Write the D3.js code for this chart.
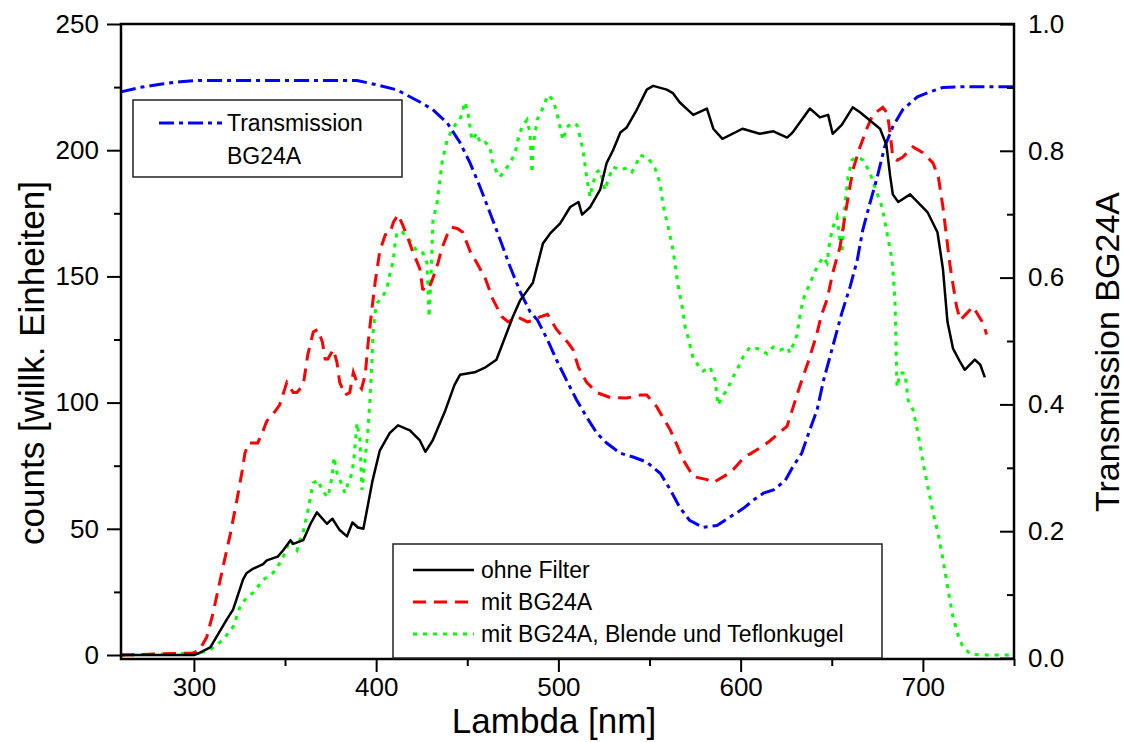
<!DOCTYPE html>
<html>
<head>
<meta charset="utf-8">
<script src="https://cdn.jsdelivr.net/npm/d3@7"></script>
<style>
  body { margin: 0; background: #fff; }
  svg { display: block; font-family: "Liberation Sans", Arial, sans-serif; }
</style>
</head>
<body>
<div id="chart"></div>
<script>
const width = 1127
const height = 742
const margin = ({top: 24, right: 113, bottom: 83, left: 121})

// wavelength [nm], counts
const ohneFilter = [
  [260, 0], [300, 0], [303, 0.8], [309, 3], [318, 14], [321.5, 18], [327, 30], [329, 32.5],
  [332, 34], [338, 36], [340, 37.5], [346, 39], [349, 41.5], [353, 45.5], [354.5, 44],
  [360, 45.5], [364, 52], [367.5, 56.5], [373, 52], [376, 54], [380, 49.5], [384, 47],
  [387, 52.5], [390, 50.5], [393, 50], [398, 69], [402, 81], [407.5, 88], [412, 91],
  [418.5, 89], [424, 85], [427, 80.5], [431, 85], [438, 97], [443, 107], [446, 111],
  [454, 112], [460, 114], [466, 117], [475, 134], [479, 140.5], [486, 147.5], [491.5, 163],
  [495.5, 167], [501, 171], [506.5, 177.5], [511, 179.5], [513, 174.5], [517.5, 177.5],
  [523, 184.5], [526.5, 195], [530, 200], [534, 207], [537.5, 209], [543, 216], [548.5, 224],
  [552, 225.5], [559.5, 224], [563, 222.5], [566.5, 219], [574, 214], [581.5, 216.5],
  [585, 208.5], [590, 204.5], [601, 208.5], [610.5, 206.5], [618, 207.5], [625.5, 205],
  [628.5, 207], [638, 216.5], [643.5, 213], [648, 214], [650.5, 206.5], [655.5, 210],
  [661.5, 217], [665.5, 215], [676.5, 208.5], [680, 202], [682, 190], [683.5, 182.5],
  [686.5, 179.5], [693, 182.5], [702.5, 175.5], [708, 167.5], [711, 153], [713.5, 132],
  [716.5, 121.5], [720.5, 116], [723, 113], [728.5, 117], [731.5, 115], [734, 110]
]

const mitBG24A = [
  [260, 0], [299.5, 0.8], [303, 2], [307, 7], [310.5, 16.6], [316, 35], [320, 48], [323.5, 61],
  [326.5, 73], [328, 80], [330, 84], [335, 84], [337.5, 88], [340, 92.7], [343, 95], [347, 99],
  [351, 108], [354.5, 104], [356.5, 104], [360, 107], [362.5, 119], [365.5, 128], [368, 129],
  [370.5, 124], [372, 117.3], [373.5, 117.3], [376.5, 121], [378.5, 116], [380, 108],
  [383, 103], [385.5, 104], [387.5, 112], [389.5, 108], [392, 105.5], [394, 111], [395.5, 123],
  [397.5, 136], [399.5, 148], [402, 160], [405, 166.5], [407.5, 167], [409.5, 171.5],
  [412, 174.5], [414.5, 170.5], [417.5, 165], [420, 160], [424, 153], [425.5, 145],
  [428.5, 144.5], [431, 149], [434, 155.5], [436, 161], [439, 166.5], [441.5, 169.5],
  [444.5, 169], [447.5, 167.5], [451.5, 160], [455.5, 155], [460, 149], [464, 141],
  [469, 134], [472.5, 132], [477.5, 134], [483, 132], [486, 132.5], [490, 134], [494, 135],
  [499, 129], [505.5, 123.5], [508, 121], [511, 114], [515.5, 108], [521, 104], [528.5, 102],
  [537.5, 101.8], [545, 103], [548.5, 103], [554, 98.3], [561.5, 89], [565.5, 82.5],
  [568.5, 77.3], [574, 70.7], [581.5, 69.5], [585, 68.3], [592.5, 71.5], [596, 73.5],
  [602.5, 78.8], [605, 79.6], [611.5, 82.4], [616, 84.8], [622.5, 88.8], [625.5, 90.7],
  [628.5, 97.5], [632.5, 106.6], [637, 116], [641.5, 126.4], [644.5, 135], [647.5, 141],
  [650.5, 151.3], [654.5, 161.6], [657.5, 175], [661.5, 192], [665.5, 201.3], [669.5, 209],
  [672.5, 214], [678, 217], [680.5, 214.7], [682, 206.8], [683.5, 197.3], [686, 196],
  [689, 197.3], [694.5, 201.3], [700, 199], [705.5, 195], [708.5, 189.4], [711, 177.5],
  [715, 153.7], [718.5, 138], [720.5, 132.7], [727.5, 138], [733, 131.5], [735, 127]
]

const mitBlende = [
  [260, 0], [303.3, 0.8], [308.8, 2], [316, 6], [321.5, 11.1], [325.3, 19], [329.1, 23],
  [332.4, 24.6], [337.9, 29.7], [343.4, 32.5], [348.3, 37.6], [352.7, 45.6], [356.6, 41.6],
  [358.2, 45.6], [359.9, 48.3], [362.6, 57.4], [365.4, 68.1], [368.1, 69.3], [370.8, 64.6],
  [373.6, 62.6], [375.8, 70.5], [376.9, 78.4], [378.5, 72.1], [380.2, 69.3], [382.9, 64.2],
  [384.6, 68.1], [386.8, 72.1], [387.9, 78.4], [389.5, 91.9], [391.1, 85.2], [392.2, 65.4],
  [393.9, 77.3], [395, 85.2], [395.5, 89.1], [396.6, 101], [397.7, 116.9], [398.3, 127.6],
  [399.4, 135.5], [400.5, 139.5], [403.2, 141.4], [406, 145.4], [407.6, 151.3], [409.3, 155.7],
  [410.4, 163.2], [411.5, 167.6], [414.2, 167.6], [416.9, 165.6], [419.7, 163.2],
  [422.4, 159.7], [425.7, 159.3], [427.9, 155.3], [429, 133.9], [430.1, 149.8], [431.2, 172.3],
  [433.4, 179.1], [435, 188.2], [436.1, 194.9], [438.9, 204], [441.6, 208], [444.4, 211.2],
  [446, 212], [448.8, 219.1], [450.4, 214.7], [451.5, 209.2], [452.6, 204], [455.3, 206.8],
  [457, 202.9], [459.7, 203.2], [462.5, 201.3], [463.6, 196.1], [466.3, 191], [468, 189.4],
  [470.7, 192.2], [473.5, 194.9], [476.2, 198.9], [477.8, 204], [480, 209.2], [482.8, 212],
  [484.4, 206.8], [485.5, 191], [486.1, 201.3], [488.3, 212], [491, 215.9], [494.3, 221.9],
  [497.1, 219.9], [499.2, 214.7], [500.9, 209.2], [502.5, 204], [504.7, 209.2], [507.5, 210.8],
  [510.2, 210], [511.9, 205.2], [513.5, 200.1], [515.7, 188.2], [517.4, 181.5], [519, 187],
  [521.2, 191.4], [522.8, 192.2], [525.6, 184.2], [527.2, 188.2], [530, 193.3], [533.8, 192.2],
  [537.7, 193], [540.4, 191.4], [543.1, 195.3], [544.8, 198.1], [549.2, 196.9], [553, 192.9],
  [555.8, 187], [557.4, 178.3], [560.2, 169.6], [562.9, 160.5], [565.6, 146.6], [567.8, 138.7],
  [569.5, 130], [571.1, 126], [573.9, 117.7], [576.6, 114.9], [579.4, 112.5], [583.2, 114.1],
  [586, 109], [587.6, 99], [589.8, 102.2], [592.5, 105], [595.8, 110.1], [598, 112.9],
  [601.3, 118.1], [605.1, 122], [610.6, 121.2], [614.5, 119.3], [617.8, 122], [621.6, 120.8],
  [625.5, 122], [627.1, 119.7], [630.9, 126.8], [632.6, 134.7], [634.2, 140.6], [638.1, 147.4],
  [641.9, 153.7], [645.2, 157.7], [647.4, 155.3], [649, 164.4], [650.7, 169.6], [652.9, 173.5],
  [654.5, 164.4], [655.6, 159.3], [657.3, 179.1], [658.9, 189.4], [661.1, 196.1],
  [663.9, 197.3], [667.2, 196.1], [671, 191], [674.8, 183], [677.6, 177.5], [680.3, 167.2],
  [683.1, 156.5], [684.7, 140.6], [685.8, 106.2], [687.5, 111.7], [690.2, 111.7], [691.9, 101],
  [694.6, 97.1], [697.3, 88], [700.1, 76.1], [702.8, 66.6], [705.6, 56.3], [708.3, 48.3],
  [711.1, 37.6], [713.8, 25.8], [716.5, 15.1], [719.3, 7.9], [721.5, 4], [725.9, 0.3],
  [733, 0], [750, 0]
]

// wavelength [nm], transmission
const transmission = [
  [260, 0.893], [270.5, 0.9], [281.5, 0.905], [292.5, 0.909], [303, 0.911], [389.5, 0.911],
  [400.5, 0.904], [411.5, 0.896], [424, 0.877], [431, 0.865], [439, 0.844], [441.5, 0.833],
  [446, 0.813], [451.5, 0.781], [457, 0.743], [462.5, 0.702], [468, 0.66], [473.5, 0.617],
  [479, 0.578], [484.5, 0.546], [488.5, 0.533], [494, 0.502], [499, 0.47], [504.5, 0.438],
  [510, 0.407], [515.5, 0.38], [521, 0.355], [526.5, 0.339], [534, 0.323], [541, 0.317],
  [548.5, 0.309], [556, 0.291], [561.5, 0.265], [566.5, 0.238], [572, 0.217], [579.5, 0.206],
  [587, 0.209], [594, 0.222], [601.5, 0.236], [607, 0.249], [612.5, 0.26], [618, 0.265],
  [624.5, 0.28], [628.5, 0.301], [633.5, 0.323], [638, 0.36], [642, 0.392], [645.5, 0.438],
  [650.5, 0.491], [655.5, 0.544], [660, 0.585], [664, 0.628], [667, 0.675], [671, 0.718],
  [675, 0.759], [679, 0.806], [683.5, 0.838], [689, 0.865], [697, 0.885], [704, 0.893],
  [711, 0.9], [720.5, 0.901], [750, 0.901]
]

const xTicks = [300, 400, 500, 600, 700]
const xMinor = [350, 450, 550, 650, 750]
const yTicks = [0, 50, 100, 150, 200, 250]
const yMinor = [25, 75, 125, 175, 225]
const tTicks = [0, 0.2, 0.4, 0.6, 0.8, 1.0]
const tMinor = [0.1, 0.3, 0.5, 0.7, 0.9]

const frameBottom = height - margin.bottom

const x = d3.scaleLinear()
  .domain([260, 750])
  .range([margin.left, width - margin.right])

const y = d3.scaleLinear()
  .domain([0, 250])
  .range([655, margin.top])

const yT = d3.scaleLinear()
  .domain([0, 1])
  .range([658, margin.top])

const svg = d3.select("#chart").append("svg")
  .attr("width", width)
  .attr("height", height)
  .attr("viewBox", [0, 0, width, height])

const line = d3.line()
  .x(d => x(d[0]))
  .y(d => y(d[1]))

const lineT = d3.line()
  .x(d => x(d[0]))
  .y(d => yT(d[1]))

// curves
svg.append("path")
  .datum(mitBlende)
  .attr("fill", "none")
  .attr("stroke", "#00ff00")
  .attr("stroke-width", 3)
  .attr("stroke-dasharray", "4,6")
  .attr("d", line)

svg.append("path")
  .datum(mitBG24A)
  .attr("fill", "none")
  .attr("stroke", "#ff0000")
  .attr("stroke-width", 3)
  .attr("stroke-dasharray", "13,8")
  .attr("d", line)

svg.append("path")
  .datum(transmission)
  .attr("fill", "none")
  .attr("stroke", "#0000ff")
  .attr("stroke-width", 3)
  .attr("stroke-dasharray", "15,5,4,5")
  .attr("d", lineT)

svg.append("path")
  .datum(ohneFilter)
  .attr("fill", "none")
  .attr("stroke", "#000")
  .attr("stroke-width", 2.5)
  .attr("stroke-linejoin", "round")
  .attr("d", line)

// axes
const xAxis = g => g
  .attr("transform", `translate(0,${frameBottom})`)
  .call(d3.axisBottom(x).tickValues(xTicks).tickSize(13).tickPadding(6).tickSizeOuter(0))
  .call(g => g.append("g").call(d3.axisBottom(x).tickValues(xMinor).tickSize(7).tickFormat("")))

const yAxis = g => g
  .attr("transform", `translate(${margin.left},0)`)
  .call(d3.axisLeft(y).tickValues(yTicks).tickSize(14).tickPadding(8).tickSizeOuter(0))
  .call(g => g.append("g").call(d3.axisLeft(y).tickValues(yMinor).tickSize(7).tickFormat("")))

const tAxis = g => g
  .attr("transform", `translate(${width - margin.right},0)`)
  .call(d3.axisRight(yT).tickValues(tTicks).tickSize(-14).tickPadding(14).tickFormat(d3.format(".1f")).tickSizeOuter(0))
  .call(g => g.append("g").call(d3.axisRight(yT).tickValues(tMinor).tickSize(-7).tickFormat("")))

for (const ax of [xAxis, yAxis, tAxis]) {
  const g = svg.append("g").call(ax)
  g.selectAll(".domain").remove()
  g.selectAll("line").attr("stroke", "#000").attr("stroke-width", 2)
  g.selectAll("text").attr("fill", "#000").attr("font-size", 26)
    .attr("font-family", "Liberation Sans, Arial, sans-serif")
}

// frame
svg.append("rect")
  .attr("x", margin.left)
  .attr("y", margin.top)
  .attr("width", width - margin.right - margin.left)
  .attr("height", frameBottom - margin.top)
  .attr("fill", "none")
  .attr("stroke", "#000")
  .attr("stroke-width", 2.5)

// axis titles
svg.append("text")
  .attr("x", 554)
  .attr("y", 733)
  .attr("text-anchor", "middle")
  .attr("font-size", 35)
  .text("Lambda [nm]")

svg.append("text")
  .attr("transform", `translate(44,363) rotate(-90)`)
  .attr("text-anchor", "middle")
  .attr("font-size", 35)
  .text("counts [willk. Einheiten]")

svg.append("text")
  .attr("transform", `translate(1119,352) rotate(-90)`)
  .attr("text-anchor", "middle")
  .attr("font-size", 34)
  .text("Transmission BG24A")

// legend: transmission
const leg1 = svg.append("g")
leg1.append("rect")
  .attr("x", 133).attr("y", 100).attr("width", 269).attr("height", 77)
  .attr("fill", "#fff").attr("stroke", "#222").attr("stroke-width", 1.5)
leg1.append("line")
  .attr("x1", 159).attr("x2", 222).attr("y1", 123).attr("y2", 123)
  .attr("stroke", "#0000ff").attr("stroke-width", 3).attr("stroke-dasharray", "15,5,4,5")
leg1.append("text").attr("x", 227).attr("y", 131).attr("font-size", 23).text("Transmission")
leg1.append("text").attr("x", 227).attr("y", 164).attr("font-size", 23).text("BG24A")

// legend: spectra
const legendItems = [
  {label: "ohne Filter", color: "#000", dash: null},
  {label: "mit BG24A", color: "#ff0000", dash: "13,8"},
  {label: "mit BG24A, Blende und Teflonkugel", color: "#00ff00", dash: "4,6"}
]
const leg2 = svg.append("g")
leg2.append("rect")
  .attr("x", 393).attr("y", 544).attr("width", 489).attr("height", 114)
  .attr("fill", "#fff").attr("stroke", "#222").attr("stroke-width", 1.5)
legendItems.forEach((d, i) => {
  const yy = 570 + i * 32
  leg2.append("line")
    .attr("x1", 413).attr("x2", 474).attr("y1", yy).attr("y2", yy)
    .attr("stroke", d.color).attr("stroke-width", d.dash ? 3 : 2.5)
    .attr("stroke-dasharray", d.dash)
  leg2.append("text").attr("x", 481).attr("y", yy + 8).attr("font-size", 23).text(d.label)
})
</script>
</body>
</html>
